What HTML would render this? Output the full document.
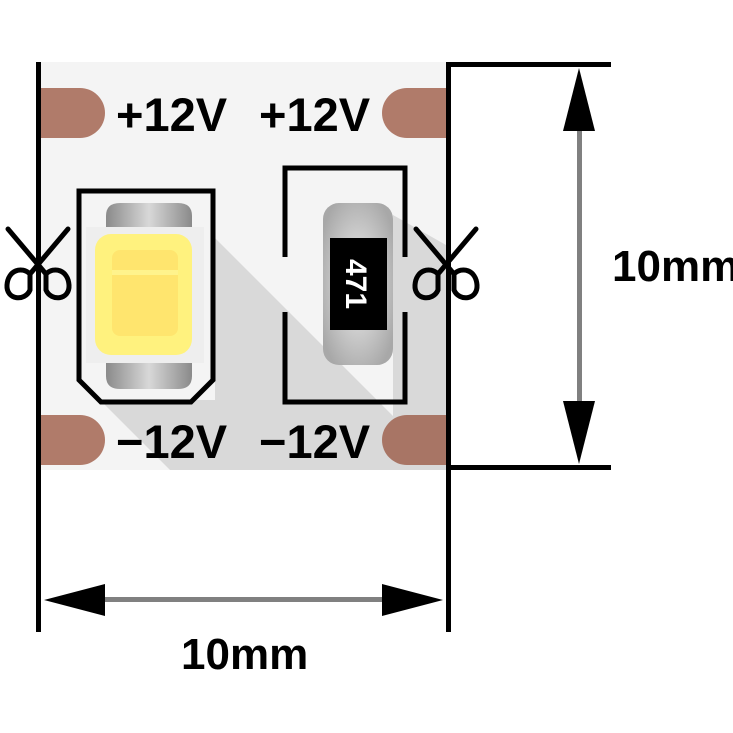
<!DOCTYPE html>
<html><head><meta charset="utf-8"><style>
html,body{margin:0;padding:0;background:#fff;}
svg{display:block;}
text{font-family:"Liberation Sans",sans-serif;font-weight:bold;}
</style></head><body>
<svg width="733" height="733" viewBox="0 0 733 733" xmlns="http://www.w3.org/2000/svg">
<defs>
<linearGradient id="cap" x1="0" y1="0" x2="1" y2="0">
<stop offset="0" stop-color="#8a8a8a"/><stop offset="0.5" stop-color="#d8d8d8"/><stop offset="1" stop-color="#8a8a8a"/>
</linearGradient>
<radialGradient id="rs" cx="0.5" cy="0.5" r="0.6">
<stop offset="0" stop-color="#f0f0f0"/><stop offset="1" stop-color="#a8a8a8"/>
</radialGradient>
</defs>
<rect x="40" y="62" width="407" height="408" fill="#f4f4f4"/>
<polygon points="215,238 446,469 446,470 170,470 100,400 215,400" fill="#d9d9d9"/>
<polygon points="393,215 446,245 446,470 393,470" fill="#d9d9d9"/>
<path d="M40,88 H80 A25,25 0 0 1 80,138 H40 Z" fill="#b07b6a"/>
<path d="M447,88 H407 A25,25 0 0 0 407,138 H447 Z" fill="#b07b6a"/>
<path d="M40,415 H80 A25,25 0 0 1 80,465 H40 Z" fill="#b07b6a"/>
<path d="M447,415 H407 A25,25 0 0 0 407,465 H447 Z" fill="#a87565"/>
<text x="116" y="131" font-size="47">+12V</text>
<text x="259" y="131" font-size="47">+12V</text>
<text x="116" y="458" font-size="47">−12V</text>
<text x="259" y="458" font-size="47">−12V</text>
<path d="M79,191 H213 V380 L191,402 H101 L79,380 Z" fill="#f4f4f4" stroke="#000" stroke-width="5"/>
<path d="M106,228 V216 Q106,203 120,203 H178 Q192,203 192,216 V228 Z" fill="url(#cap)"/>
<path d="M106,362 V376 Q106,389 120,389 H178 Q192,389 192,376 V362 Z" fill="url(#cap)"/>
<rect x="86" y="227" width="118" height="136" fill="#eeeeee"/>
<rect x="95" y="234" width="97" height="121" rx="16" fill="#fff27e"/>
<rect x="112" y="250" width="66" height="86" rx="8" fill="#ffe56e"/>
<rect x="112" y="270" width="66" height="5" fill="#fff38c"/>
<path d="M285,257 V168 H405 V257" fill="none" stroke="#000" stroke-width="5"/>
<path d="M285,312 V402 H405 V312" fill="none" stroke="#000" stroke-width="5"/>
<rect x="323" y="203" width="70" height="162" rx="16" fill="url(#rs)"/>
<rect x="330" y="238" width="57" height="92" fill="#000"/>
<text x="0" y="0" font-size="30" fill="#fff" font-weight="normal" transform="translate(346,284) rotate(90)" text-anchor="middle">471</text>
<rect x="36" y="62" width="5" height="570" fill="#000"/>
<rect x="446" y="62" width="5" height="570" fill="#000"/>
<g fill="none" stroke="#000" stroke-width="5" stroke-linecap="round">
<path d="M8,229 L46,274"/><path d="M68,229 L30,274"/>
<path d="M30,274 C22,266 8,270 7,285 C6,300 25,302 30,290 Z"/>
<path d="M46,274 C54,266 68,270 69,285 C70,300 51,302 46,290 Z"/>
<path d="M416,229 L454,274"/><path d="M476,229 L438,274"/>
<path d="M438,274 C430,266 416,270 415,285 C414,300 433,302 438,290 Z"/>
<path d="M454,274 C462,266 476,270 477,285 C478,300 459,302 454,290 Z"/>
</g>
<rect x="449" y="62" width="162" height="5" fill="#000"/>
<rect x="449" y="465" width="162" height="5" fill="#000"/>
<rect x="577" y="120" width="5" height="290" fill="#808080"/>
<polygon points="579,68 563,131 595,131" fill="#000"/>
<polygon points="579,464 563,401 595,401" fill="#000"/>
<text x="612" y="281" font-size="44">10mm</text>
<rect x="95" y="597" width="295" height="5" fill="#808080"/>
<polygon points="44,600 105,584 105,616" fill="#000"/>
<polygon points="443,600 382,584 382,616" fill="#000"/>
<text x="181" y="669" font-size="44">10mm</text>
</svg>
</body></html>
